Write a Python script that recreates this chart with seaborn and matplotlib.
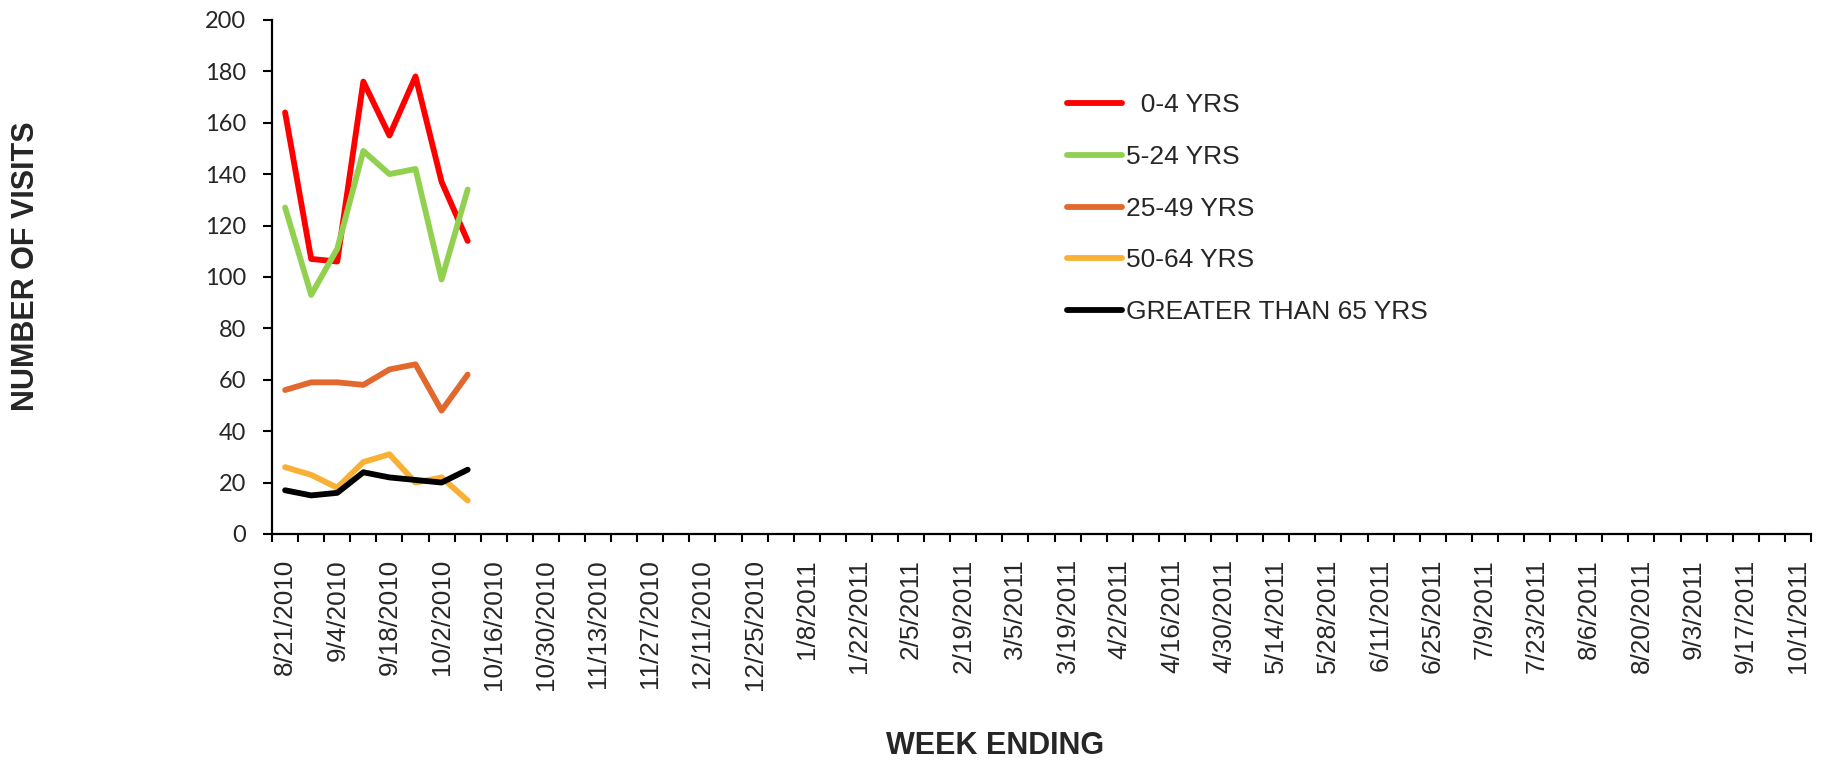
import numpy as np
import pandas as pd
import seaborn as sns
import matplotlib.pyplot as plt

# weekly categories shown on the x axis
weeks = pd.date_range('2010-08-21', '2011-10-01', freq='7D')
week_labels = [f'{d.month}/{d.day}/{d.year}' for d in weeks]

# reported weeks (index into weeks) and visits per age group
week_idx = [0, 1, 2, 3, 4, 5, 6, 7]
age_0_4 = [164, 107, 106, 176, 155, 178, 137, 114]
age_5_24 = [127, 93, 111, 149, 140, 142, 99, 134]
age_25_49 = [56, 59, 59, 58, 64, 66, 48, 62]
age_50_64 = [26, 23, 18, 28, 31, 20, 22, 13]
age_65_up = [17, 15, 16, 24, 22, 21, 20, 25]

groups = ['  0-4 YRS', '5-24 YRS', '25-49 YRS', '50-64 YRS', 'GREATER THAN 65 YRS']
colors = ['#FF0000', '#92D050', '#E2692E', '#F8B134', '#000000']

rows = []
for g, vals in zip(groups, [age_0_4, age_5_24, age_25_49, age_50_64, age_65_up]):
    for w, v in zip(week_idx, vals):
        rows.append({'week': w, 'visits': v, 'group': g})
df = pd.DataFrame(rows)

sns.set_style('white')
plt.rcParams['font.family'] = ['Liberation Sans', 'DejaVu Sans']

fig = plt.figure(figsize=(18.32, 7.65), dpi=100)
ax = fig.add_axes([0.1485, 0.302, 0.84, 0.672])

sns.lineplot(data=df, x='week', y='visits', hue='group', hue_order=groups,
             palette=dict(zip(groups, colors)), linewidth=4.2, ax=ax,
             solid_capstyle='round', solid_joinstyle='round')

ax.set_xlim(-0.5, len(weeks) - 0.5)
ax.set_ylim(0, 200)
ax.set_yticks(np.arange(0, 201, 20))
for lab in ax.get_yticklabels():
    lab.set_fontfamily('Lato')
    lab.set_fontsize(17)

ax.set_xticks(np.arange(0, len(weeks), 2), week_labels[::2], rotation=90, fontsize=18.8)
ax.set_xticks(np.arange(-0.5, len(weeks)), minor=True)
ax.tick_params(axis='x', which='major', length=0, pad=18)
ax.tick_params(axis='x', which='minor', length=6, width=1.5, direction='out', color='black', bottom=True)
ax.tick_params(axis='y', which='major', length=6.5, width=1.5, direction='out', color='black', left=True, pad=12)

sns.despine(ax=ax)
for s in ['left', 'bottom']:
    ax.spines[s].set_color('black')
    ax.spines[s].set_linewidth(1.6)

ax.set_xlabel('WEEK ENDING', fontsize=22, fontweight='bold')
ax.xaxis.set_label_coords(0.47, -0.412)
ax.xaxis.label.set_va('center')
ax.set_ylabel('NUMBER OF VISITS', fontsize=22, fontweight='bold')
ax.yaxis.set_label_coords(-0.16, 0.52)
ax.yaxis.label.set_va('center')

handles, labels = ax.get_legend_handles_labels()
ax.legend(handles, labels, loc='upper left', bbox_to_anchor=(0.5824, 0.878),
          bbox_transform=fig.transFigure, frameon=False, fontsize=19,
          handlelength=2.1, handletextpad=0.15, labelspacing=1.05, borderpad=0,
          borderaxespad=0)

fig.savefig('out.png', dpi=100)
